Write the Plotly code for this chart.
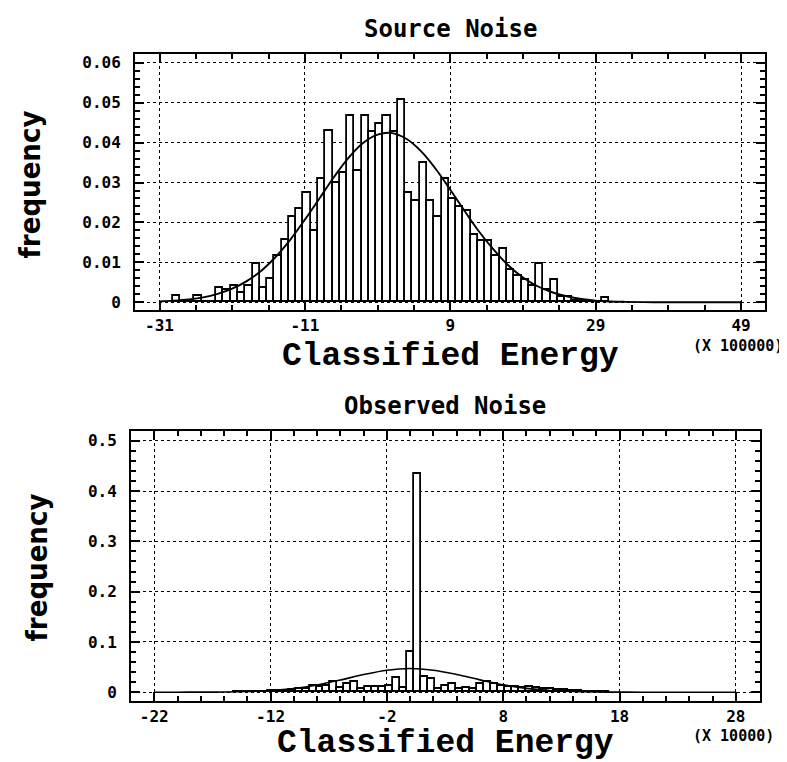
import plotly.graph_objects as go

# ---------------- data ----------------
# Top: Source Noise, bins of width 1 (x 100000), first bin starts at -29.2
src_bin_start = -29.2
src_bin_width = 1.0
src_freq = [0.0017, 0, 0, 0.0017, 0, 0, 0.0037, 0.0032, 0.0040, 0.0023,
            0.0040, 0.0096, 0.0036, 0.0058, 0.0117, 0.0157, 0.0215, 0.0235, 0.0273, 0.0180,
            0.0310, 0.0430, 0.0300, 0.0325, 0.0467, 0.0330, 0.0467, 0.0428, 0.0446, 0.0467,
            0.0428, 0.0506, 0.0273, 0.0253, 0.0350, 0.0253, 0.0213, 0.0308, 0.0260, 0.0240,
            0.0229, 0.0170, 0.0155, 0.0155, 0.0115, 0.0133, 0.0080, 0.0065, 0.0056, 0.0042,
            0.0096, 0.0031, 0.0055, 0.0014, 0.0014, 0.0004, 0, 0, 0, 0.0012]
src_curve_x = [-31, -29, -27, -25, -23, -21, -19, -17, -15, -13, -11, -9, -7, -5, -3, -1,
               1, 3, 5, 7, 9, 11, 13, 15, 17, 19, 21, 23, 25, 27, 29, 31, 33, 37, 41, 45, 49]
src_curve_y = [0.0002, 0.0004, 0.0007, 0.0012, 0.0021, 0.0034, 0.0053, 0.0079, 0.0114, 0.0157,
               0.0207, 0.0260, 0.0314, 0.0362, 0.0399, 0.0420, 0.0424, 0.0409, 0.0378, 0.0334,
               0.0282, 0.0228, 0.0176, 0.0131, 0.0092, 0.0062, 0.0040, 0.0025, 0.0015, 0.0008,
               0.0004, 0.0002, 0.0001, 0, 0, 0, 0]
src_xticks = [-31, -11, 9, 29, 49]
src_yticks = [0, 0.01, 0.02, 0.03, 0.04, 0.05, 0.06]
src_ytext = ["0", "0.01", "0.02", "0.03", "0.04", "0.05", "0.06"]

# Bottom: Observed Noise, bins of width 0.6 (x 10000)
obs_bin_start = -15.25
obs_bin_width = 0.6
obs_freq = [0.0005, 0, 0.0005, 0.001, 0.001, 0.002, 0.003, 0.003, 0.005, 0.007,
            0.007, 0.012, 0.010, 0.013, 0.020, 0.008, 0.016, 0.021, 0.006, 0.011,
            0.0096, 0.0096, 0.013, 0.028, 0.008, 0.081, 0.435, 0.031, 0.026, 0.006,
            0.013, 0.016, 0.006, 0.008, 0.0066, 0.016, 0.021, 0.016, 0.013, 0.010,
            0.010, 0.009, 0.010, 0.008, 0.006, 0.006, 0.004, 0.004, 0.002, 0.002,
            0.001, 0.001, 0, 0.001]
obs_curve_x = [-22, -20, -18, -16, -14, -12, -10, -8, -6, -4, -2, 0, 2, 4, 6, 8, 10,
               12, 14, 16, 18, 20, 24, 28]
obs_curve_y = [0, 0, 0.0001, 0.0004, 0.0013, 0.0033, 0.0074, 0.0144, 0.0242, 0.0350, 0.0437,
               0.0470, 0.0437, 0.0352, 0.0245, 0.0146, 0.0075, 0.0034, 0.0013, 0.0004, 0.0001,
               0, 0, 0]
obs_xticks = [-22, -12, -2, 8, 18, 28]
obs_yticks = [0, 0.1, 0.2, 0.3, 0.4, 0.5]
obs_ytext = ["0", "0.1", "0.2", "0.3", "0.4", "0.5"]

# ---------------- figure ----------------
W, H = 787, 762
TICKFONT = dict(family="DejaVu Sans Mono", size=16, color="black", weight="bold")
BIGFONT = dict(family="Liberation Mono, Courier New, monospace", size=33, color="black", weight="bold")
TITLEFONT = dict(family="DejaVu Sans Mono", size=24, color="black", weight="bold")
YLABFONT = dict(family="DejaVu Sans Condensed, Liberation Sans Narrow, Roboto Condensed, sans-serif",
                size=29, color="black", weight="bold")
UNITFONT = dict(family="DejaVu Sans Mono", size=15, color="black", weight="bold")

src_centers = [src_bin_start + src_bin_width * (i + 0.5) for i in range(len(src_freq))]
obs_centers = [obs_bin_start + obs_bin_width * (i + 0.5) for i in range(len(obs_freq))]

fig = go.Figure()
fig.add_trace(go.Bar(x=src_centers, y=src_freq, width=src_bin_width,
                     marker=dict(color="white", line=dict(color="black", width=1.8)),
                     xaxis="x", yaxis="y", showlegend=False))
fig.add_trace(go.Scatter(x=src_curve_x, y=src_curve_y, mode="lines",
                         line=dict(color="black", width=1.9, shape="spline"),
                         xaxis="x", yaxis="y", showlegend=False))
fig.add_trace(go.Bar(x=obs_centers, y=obs_freq, width=obs_bin_width,
                     marker=dict(color="white", line=dict(color="black", width=1.8)),
                     xaxis="x2", yaxis="y2", showlegend=False))
fig.add_trace(go.Scatter(x=obs_curve_x, y=obs_curve_y, mode="lines",
                         line=dict(color="black", width=1.6, shape="spline"),
                         xaxis="x2", yaxis="y2", showlegend=False))


def px(x):
    return x / W


def py(y):
    return 1 - y / H


common = dict(showline=True, linewidth=2, linecolor="black", mirror="allticks",
              ticks="inside", ticklen=9, tickwidth=2, tickcolor="black",
              showgrid=True, gridcolor="black", gridwidth=1, griddash="dot",
              zeroline=False, tickfont=TICKFONT, fixedrange=True)


def minor(t0, dt):
    return dict(ticks="inside", ticklen=5, tickwidth=1.5, tickcolor="black",
                tick0=t0, dtick=dt, showgrid=False)


fig.update_layout(
    width=W, height=H, margin=dict(l=0, r=0, t=0, b=0),
    paper_bgcolor="white", plot_bgcolor="white", bargap=0, barmode="overlay",
    xaxis=dict(domain=[px(127), px(757)], anchor="y", range=[-34.37, 52.29],
               tickvals=src_xticks, ticktext=[str(v) for v in src_xticks],
               ticklabelstandoff=0, minor=minor(-31, 5), **common),
    yaxis=dict(domain=[py(303), py(46)], anchor="x", range=[-0.002, 0.06225],
               tickvals=src_yticks, ticktext=src_ytext,
               ticklabelstandoff=9, minor=minor(0, 0.002), **common),
    xaxis2=dict(domain=[px(123), px(752)], anchor="y2", range=[-24.0, 30.08],
                tickvals=obs_xticks, ticktext=[str(v) for v in obs_xticks],
                ticklabelstandoff=0, minor=minor(-22, 2), **common),
    yaxis2=dict(domain=[py(695), py(424)], anchor="x2", range=[-0.0179, 0.5198],
                tickvals=obs_yticks, ticktext=obs_ytext,
                ticklabelstandoff=9, minor=minor(0, 0.02), **common),
)

ann = [
    dict(text="Source Noise", x=px(442), y=py(21), font=TITLEFONT, yanchor="middle"),
    dict(text="Observed Noise", x=px(437), y=py(399), font=TITLEFONT, yanchor="middle"),
    dict(text="Classified Energy", x=px(442), y=py(370), font=BIGFONT, yanchor="bottom"),
    dict(text="Classified Energy", x=px(437), y=py(758), font=BIGFONT, yanchor="bottom"),
    dict(text="(X 100000)", x=px(730), y=py(339), font=UNITFONT, yanchor="middle"),
    dict(text="(X 10000)", x=px(725), y=py(730), font=UNITFONT, yanchor="middle"),
    dict(text="frequency", x=px(22), y=py(177), font=YLABFONT, textangle=-90, yanchor="middle"),
    dict(text="frequency", x=px(29), y=py(561), font=YLABFONT, textangle=-90, yanchor="middle"),
]
for a in ann:
    fig.add_annotation(xref="paper", yref="paper", xanchor="center",
                       showarrow=False, **a)

fig.write_html("out.html")
